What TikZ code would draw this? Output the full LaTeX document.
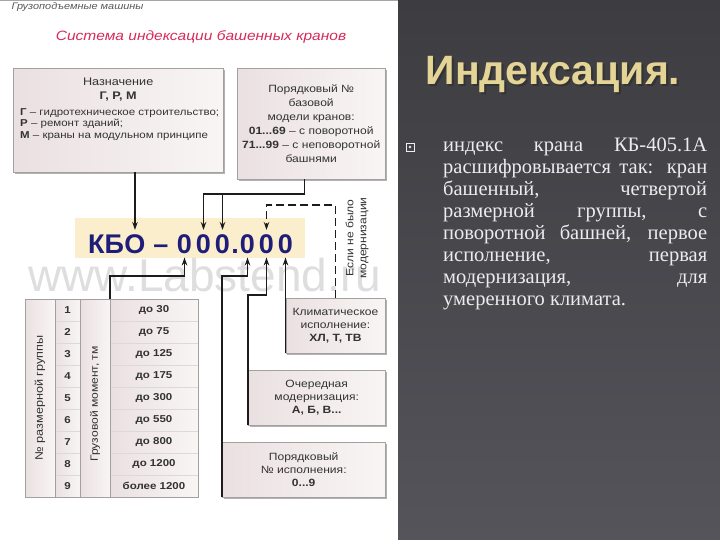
\documentclass[tikz,border=0pt]{standalone}
\usepackage{fontspec}
\usepackage{tikz}
\usetikzlibrary{arrows.meta,shadows,positioning,calc}
\setmainfont{Liberation Serif}
\newfontfamily\dfont[FakeStretch=1.15]{Liberation Sans}
\newfontfamily\tfont{Liberation Sans}
\definecolor{boxl}{RGB}{234,224,226}
\definecolor{boxr}{RGB}{249,245,245}
\definecolor{boxline}{RGB}{165,160,160}
\definecolor{codebg}{RGB}{250,238,205}
\definecolor{codefg}{RGB}{30,30,122}
\definecolor{titlered}{RGB}{214,42,92}
\definecolor{mark}{RGB}{222,222,222}
\definecolor{gold}{RGB}{228,212,150}
\definecolor{slatetop}{RGB}{60,60,65}
\definecolor{slatebot}{RGB}{84,84,90}
\definecolor{bodytext}{RGB}{236,236,236}
\definecolor{feedline}{RGB}{28,28,28}
\tikzset{
  infobox/.style={draw=boxline, left color=boxl, right color=boxr, anchor=north west,
    inner sep=0pt, drop shadow={shadow xshift=1.5pt, shadow yshift=-1.5pt, fill=black!50, opacity=.6}},
  boxtext/.style={font=\dfont\fontsize{10.5}{13}\selectfont, text=black!80, align=center, inner sep=0pt},
  cell/.style={draw=white!60!boxline, line width=.8pt, left color=boxl, right color=boxr},
  celltext/.style={font=\dfont\bfseries\fontsize{10}{11}\selectfont, text=black!80, inner sep=0pt},
  codech/.style={font=\tfont\bfseries\fontsize{27}{27}\selectfont, text=codefg, inner xsep=0pt, inner ysep=4pt, anchor=base},
  feed/.style={draw=feedline, line width=1.4pt, -{Stealth[length=8pt,width=5.5pt]}},
  ifno/.style={feed, dash pattern=on 8pt off 4pt},
}
\begin{document}
\begin{tikzpicture}[x=1pt,y=-1pt]
\useasboundingbox (0,0) rectangle (720,540);
% panels
\fill[white] (0,0) rectangle (398,540);
\shade[top color=slatetop, bottom color=slatebot] (398,0) rectangle (720,540);
\draw[black!35, line width=1.5pt] (0,0.75) -- (398,0.75);

% heading of the scheme
\node[font=\dfont\itshape\fontsize{9.5}{11}\selectfont, text=black!65, anchor=west] (topic) at (8,7) {Грузоподъемные машины};
\node[font=\dfont\itshape\fontsize{13.5}{15}\selectfont, text=titlered] (caption) at (201,37) {Система индексации башенных кранов};

% code line
\node[fill=codebg, anchor=north west, minimum width=230pt, minimum height=40pt, inner sep=0pt] (banner) at (75,218) {};
\node[font=\tfont\fontsize{46}{46}\selectfont, text=mark, anchor=base west, inner sep=0pt] (wm) at (28,291) {www.Labstend.ru};
\node[codech, anchor=base west] (kb) at (88,253) {КБ};
\node[codech, anchor=base west] (ko) at (kb.base east) {О};
\node[codech] (dash) at (161,253) {–};
\node[codech] (dot) at (235,253) {.};
\foreach \name/\x in {d1/184.5, d2/203.5, d3/222.5, d4/247.5, d5/266.5, d6/285.5}
  \node[codech] (\name) at (\x,253) {0};

% boxes
\node[infobox, minimum width=210pt, minimum height=104pt] (nazn) at (13,68) {};
\node[infobox, minimum width=148pt, minimum height=111pt] (model) at (237,68) {};
\node[infobox, minimum width=99.5pt, minimum height=55pt] (clim) at (285.5,298) {};
\node[infobox, minimum width=137pt, minimum height=55pt] (modz) at (248,370) {};
\node[infobox, minimum width=163pt, minimum height=55pt] (ispol) at (222,442) {};

\node[boxtext, below=10pt of nazn.north, font=\dfont\fontsize{11}{14}\selectfont] (nazn-head) {Назначение\\\textbf{Г, Р, М}};
\node[boxtext, align=left, anchor=north west, font=\dfont\fontsize{10}{11.8}\selectfont] (nazn-list) at ($(nazn.north west)+(7,40)$)
  {\textbf{Г} – гидротехническое строительство;\\\textbf{Р} – ремонт зданий;\\\textbf{М} – краны на модульном принципе};
\node[boxtext, below=17pt of model.north, font=\dfont\fontsize{10.5}{14}\selectfont] (model-text) {Порядковый №\\базовой\\модели кранов:\\
  \textbf{01...69} – с поворотной\\\textbf{71...99} – с неповоротной\\башнями};
\node[boxtext] (clim-text) at (clim.center) {Климатическое\\исполнение:\\\textbf{ХЛ, Т, ТВ}};
\node[boxtext] (modz-text) at (modz.center) {Очередная\\модернизация:\\\textbf{А, Б, В...}};
\node[boxtext] (ispol-text) at (ispol.center) {Порядковый\\№ исполнения:\\\textbf{0...9}};

% table of size groups
\fill[left color=boxl, right color=boxr] (25,299) rectangle (55,497);
\fill[left color=boxl, right color=boxr] (80,299) rectangle (110,497);
\foreach \n/\v [count=\i from 0] in {1/до 30, 2/до 75, 3/до 125, 4/до 175, 5/до 300, 6/до 550, 7/до 800, 8/до 1200, 9/более 1200}{
  \path[cell] (55,299+22*\i) rectangle ++(25,22);
  \path[cell] (110,299+22*\i) rectangle ++(88,22);
  \node[celltext] (num\n) at (67.5,310+22*\i) {\n};
  \node[celltext] (val\n) at (154,310+22*\i) {\v};
}
\draw[boxline] (25,299) rectangle (198,497);
\foreach \x in {55,80,110} \draw[boxline] (\x,299) -- (\x,497);
\node[boxtext, rotate=90, font=\dfont\fontsize{11}{12}\selectfont] (grp) at (40,398) {№ размерной группы};
\node[boxtext, rotate=90, font=\dfont\fontsize{10.5}{12}\selectfont] (mom) at (95,404) {Грузовой момент, тм};
\coordinate (moment) at (110,299);

% connectors
\coordinate (topbus) at (0,194);
\coordinate (dashbus) at (0,205);
\coordinate (lowbus) at (0,276);
\coordinate (modbus) at (0,295);
\draw[feed] (nazn.south -| ko) -- (ko.north);
\draw[feed] ([xshift=-7pt]model.south) |- (d2 |- topbus) -- (d2.north);
\draw[feed] (d3 |- topbus) -- (d3.north);
\draw[ifno] (clim.north) |- (d5 |- dashbus) -- (d5.north);
\node[boxtext, rotate=90, font=\dfont\fontsize{10.5}{13}\selectfont] (ifnote) at (357,238) {Если не было\\модернизации};
\draw[feed] (moment) |- (d1 |- lowbus) -- (d1.south);
\draw[feed] (ispol.south west) |- (d4 |- lowbus) -- (d4.south);
\draw[feed] (modz.south west) |- (d5 |- modbus) -- (d5.south);
\draw[feed] (d6 |- clim.south) -- (d6.south);

% slide text
\node[font=\tfont\bfseries\fontsize{41}{41}\selectfont, text=black!80, anchor=base west] (head-shadow) at (424,87) {Индексация.};
\node[font=\tfont\bfseries\fontsize{41}{41}\selectfont, text=gold, anchor=base west] (head) at (422,85) {Индексация.};
\node[draw=bodytext!85, line width=.8pt, minimum size=8pt, inner sep=0pt] (bul) at (410,147) {};
\fill[bodytext] (bul.center) circle (1.4pt);
\node[anchor=north west, text width=264pt, align=justify, inner sep=0pt, text=bodytext,
  font=\fontsize{20.5}{22}\selectfont] (body) at (443,138)
  {индекс крана КБ-405.1А\linebreak
   расшифровывается так: кран\linebreak
   башенный, четвертой\linebreak
   размерной группы, с\linebreak
   поворотной башней, первое\linebreak
   исполнение, первая\linebreak
   модернизация, для\linebreak
   умеренного климата.};
\end{tikzpicture}
\end{document}
